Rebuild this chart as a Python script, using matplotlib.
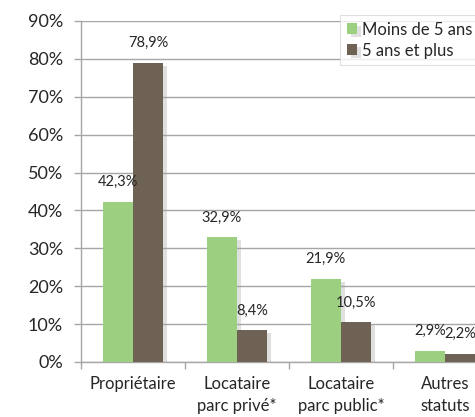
import numpy as np
import matplotlib
matplotlib.use("Agg")
import matplotlib.pyplot as plt
import matplotlib.patheffects as pe

# Data
categories = ["Propriétaire", "Locataire\nparc privé*", "Locataire\nparc public*", "Autres\nstatuts"]
series_names = ["Moins de 5 ans", "5 ans et plus"]
moins_5 = [42.3, 32.9, 21.9, 2.9]
plus_5 = [78.9, 8.4, 10.5, 2.2]
yticks = [0, 10, 20, 30, 40, 50, 60, 70, 80, 90]

plt.rcParams["font.family"] = ["Lato", "DejaVu Sans"]

GREEN = "#9dcf80"
BROWN = "#6e6254"
GRID = "#a6a6a6"
TXT = "#262626"

fig = plt.figure(figsize=(4.75, 4.17), dpi=100)
ax = fig.add_axes([81 / 475, 55 / 417, 416 / 475, 341 / 417])

x = np.arange(len(categories))
w = 0.29
shadow = [pe.SimplePatchShadow(offset=(3, -2), shadow_rgbFace="#999999", alpha=0.3), pe.Normal()]

b1 = ax.bar(x - w / 2, moins_5, w, color=GREEN, label=series_names[0], zorder=3)
b2 = ax.bar(x + w / 2, plus_5, w, color=BROWN, label=series_names[1], zorder=3)
for bars in (b1, b2):
    for p in bars:
        p.set_path_effects(shadow)

for bars, vals in ((b1, moins_5), (b2, plus_5)):
    for p, v in zip(bars, vals):
        ax.text(p.get_x() + p.get_width() / 2, v + 5.2, f"{v:.1f}%".replace(".", ","),
                ha="center", va="center", fontsize=10.5, color=TXT, zorder=5)

ax.set_xlim(-0.5, len(categories) - 0.5)
ax.set_ylim(0, 90)
ax.set_yticks(yticks)
ax.set_yticklabels([f"{t}%" for t in yticks], fontsize=13, color=TXT)
ax.yaxis.grid(True, color=GRID, linewidth=1, zorder=0)
ax.set_axisbelow(True)

# category ticks on boundaries, labels at centres
ax.set_xticks(np.arange(len(categories) + 1) - 0.5)
ax.set_xticklabels([])
ax.set_xticks(x, minor=True)
ax.set_xticklabels(categories, minor=True, fontsize=12, color=TXT, linespacing=1.5)
ax.tick_params(axis="x", which="minor", length=0, pad=10)
ax.tick_params(axis="x", which="major", length=5, color=GRID, width=1)
ax.tick_params(axis="y", length=5, color=GRID, width=1, pad=8)

for s in ("top", "right"):
    ax.spines[s].set_visible(False)
for s in ("left", "bottom"):
    ax.spines[s].set_color(GRID)
    ax.spines[s].set_linewidth(1)

leg = fig.legend(handles=[b1, b2], loc="upper left", bbox_to_anchor=(340 / 475, 1 - 15 / 417),
                 fontsize=12, frameon=True, fancybox=False, handlelength=0.6, handleheight=0.6,
                 handletextpad=0.3, labelspacing=0.3, borderpad=0.4, borderaxespad=0)
leg.get_frame().set_edgecolor("#d8d8d8")
leg.get_frame().set_linewidth(0.8)
for t in leg.get_texts():
    t.set_color(TXT)
leg.set_zorder(10)

fig.savefig("out.png", dpi=100)
